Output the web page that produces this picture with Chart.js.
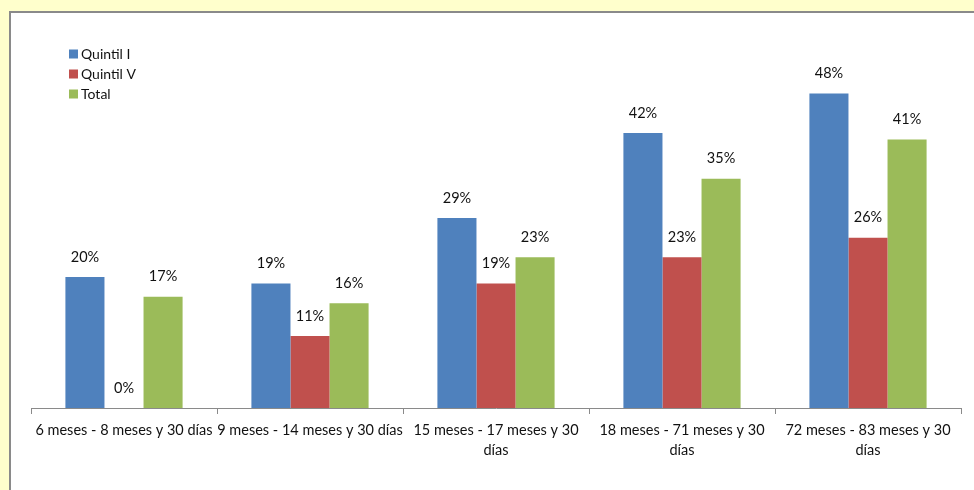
<!DOCTYPE html>
<html>
<head>
<meta charset="utf-8">
<script src="https://cdn.jsdelivr.net/npm/chart.js@4/dist/chart.umd.min.js"></script>
<style>
  html, body { margin: 0; padding: 0; }
  body { width: 974px; height: 490px; background: #FFFFCC; position: relative; overflow: hidden; }
  #frame { position: absolute; left: 9px; top: 11px; right: -4px; bottom: -4px; background: #fff;
           border-left: 2px solid #8a8a8a; border-top: 2px solid #8a8a8a; }
  #wrap { position: absolute; left: 0; top: 0; width: 974px; height: 490px; }
</style>
</head>
<body>
<div id="frame"></div>
<div id="wrap"><canvas id="c" width="974" height="490"></canvas></div>
<script>
const categories = [
  '6 meses - 8 meses y 30 días',
  '9 meses - 14 meses y 30 días',
  ['15 meses - 17 meses y 30', 'días'],
  ['18 meses - 71 meses y 30', 'días'],
  ['72 meses - 83 meses y 30', 'días']
];
const quintilI = [0.20, 0.19, 0.29, 0.42, 0.48];
const quintilV = [0.00, 0.11, 0.19, 0.23, 0.26];
const total    = [0.17, 0.16, 0.23, 0.35, 0.41];

const FONT = 'Lato, "Open Sans", sans-serif';

// Percentage text above every bar
const valueLabels = {
  id: 'valueLabels',
  afterDatasetsDraw(chart) {
    const ctx = chart.ctx;
    ctx.save();
    ctx.font = '14.5px ' + FONT;
    ctx.fillStyle = '#111';
    ctx.textAlign = 'center';
    ctx.textBaseline = 'middle';
    chart.data.datasets.forEach((ds, i) => {
      chart.getDatasetMeta(i).data.forEach((bar, j) => {
        ctx.fillText(Math.round(ds.data[j] * 100) + '%', bar.x, bar.y - 20);
      });
    });
    ctx.restore();
  }
};

// Vertical legend in the upper-left corner of the plot
const cornerLegend = {
  id: 'cornerLegend',
  afterDraw(chart) {
    const ctx = chart.ctx;
    ctx.save();
    ctx.font = '14px ' + FONT;
    ctx.textBaseline = 'middle';
    ctx.textAlign = 'left';
    chart.data.datasets.forEach((ds, i) => {
      const cy = 54 + i * 20;
      ctx.fillStyle = ds.backgroundColor;
      ctx.fillRect(69, cy - 4.5, 9, 9);
      ctx.fillStyle = '#111';
      ctx.fillText(ds.label, 81, cy);
    });
    ctx.restore();
  }
};

new Chart(document.getElementById('c'), {
  type: 'bar',
  data: {
    labels: categories,
    datasets: [
      { label: 'Quintil I', data: quintilI, backgroundColor: '#4F81BD' },
      { label: 'Quintil V', data: quintilV, backgroundColor: '#C0504D' },
      { label: 'Total', data: total, backgroundColor: '#9BBB59' }
    ]
  },
  options: {
    responsive: false,
    animation: false,
    events: [],
    layout: { padding: { left: 31, right: 13, top: 15, bottom: 0 } },
    categoryPercentage: 0.63,
    barPercentage: 1.0,
    plugins: { legend: { display: false }, tooltip: { enabled: false } },
    scales: {
      x: {
        offset: true,
        grid: { display: true, drawOnChartArea: false, offset: true, tickLength: 6, color: '#8a8a8a', lineWidth: 1 },
        border: { display: true, color: '#8a8a8a', width: 1 },
        ticks: { color: '#111', font: { family: FONT, size: 14.5, lineHeight: 1.38 }, padding: 6, maxRotation: 0, autoSkip: false },
        afterFit(scale) { scale.height = 82; }
      },
      y: {
        display: false,
        min: 0,
        max: 0.6
      }
    }
  },
  plugins: [valueLabels, cornerLegend]
});
</script>
</body>
</html>
